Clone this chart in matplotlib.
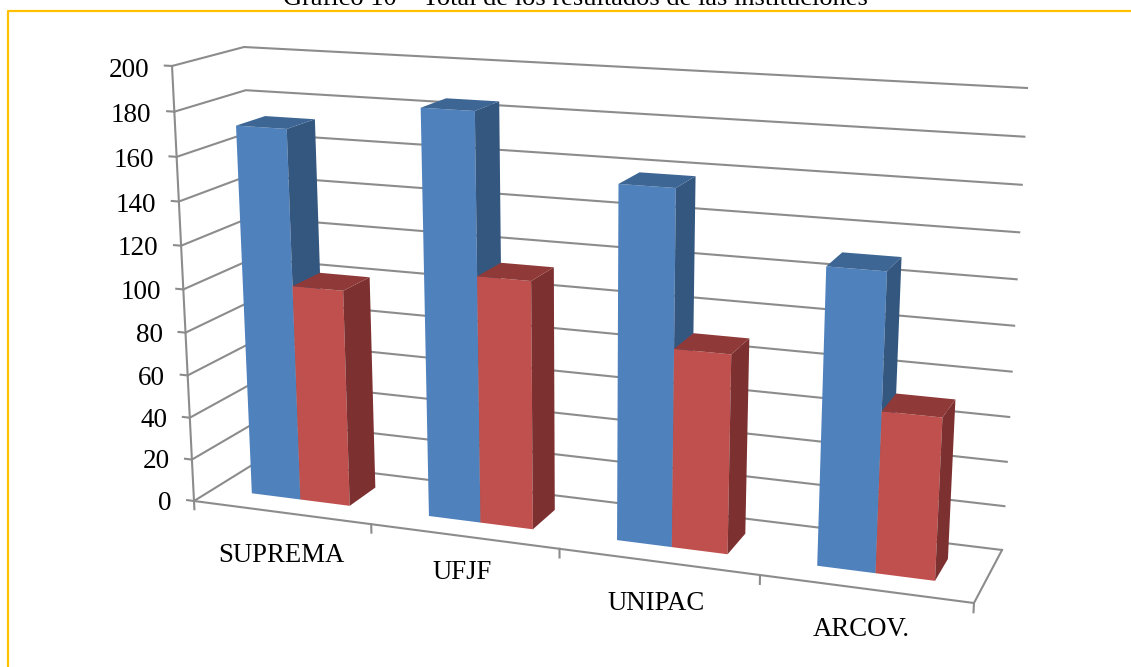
import matplotlib
matplotlib.use("Agg")
import matplotlib.pyplot as plt
from matplotlib.lines import Line2D
import numpy as np

plt.rcParams['font.family'] = ['Liberation Serif', 'DejaVu Serif']

title = "Gráfico 10 – Total de los resultados de las instituciones"
categories = ["SUPREMA", "UFJF", "UNIPAC", "ARCOV."]
series_blue = [172, 185, 158, 130]
series_red = [101, 113, 89, 71]
y_ticks = [0, 20, 40, 60, 80, 100, 120, 140, 160, 180, 200]

W, H = 1131, 667


# camera fitted on the corners of the chart box: (category, depth, value) -> view coords
def fit_camera():
    corners = [((0, 0, 0), (194, 501)), ((0, 0, 200), (172, 66)), ((0, 1, 200), (244, 47)),
               ((4, 1, 200), (1027, 88)), ((4, 1, 0), (1002, 550)), ((4, 0, 0), (974, 603))]
    rows = []
    for (x, y, z), (px, py) in corners:
        u, v = 2*px/W - 1, 1 - 2*py/H
        rows.append([x, y, z, 1, 0, 0, 0, 0, -u*x, -u*y, -u*z, -u])
        rows.append([0, 0, 0, 0, x, y, z, 1, -v*x, -v*y, -v*z, -v])
    p = np.linalg.svd(np.array(rows, dtype=float))[2][-1].reshape(3, 4)
    p = p / p[2, 3]
    # depth row stays negative, mplot3d drops line points with positive depth
    return np.array([p[0], p[1], [0, -1e-3, 0, -1e-3], p[2]])


M = fit_camera()

fig = plt.figure(figsize=(W/100, H/100), dpi=100)
ax = fig.add_axes([0, 0, 1, 1], projection='3d', computed_zorder=False)
ax.apply_aspect = lambda position=None: None
ax.get_proj = lambda: M
ax.set_axis_off()
ax.viewLim.intervalx = (-1, 1)
ax.viewLim.intervaly = (-1, 1)

n = len(categories)
grey = '#8c8c8c'
lw = 1.5

# walls
for t in y_ticks:
    ax.plot([0, 0, n], [0, 1, 1], [t, t, t], color=grey, lw=lw, zorder=1)
    ax.plot([-0.04, 0], [0, 0], [t, t], color=grey, lw=lw, zorder=1)
    ax.text(-0.13, 0, t - 2.4, str(t), ha='right', va='center', fontsize=19.5, zorder=5)
ax.plot([0, 0], [0, 0], [0, 200], color=grey, lw=lw, zorder=1)
ax.plot([0, n, n], [0, 0, 1], [0, 0, 0], color=grey, lw=lw, zorder=1)
for i in range(n + 1):
    ax.plot([i, i], [0, 0], [0, -4], color=grey, lw=lw, zorder=1)

# bars
bar_w = 0.28
bar_start = 0.22
depth_front = 0.29
depth = 0.42
none = (0, 0, 0, 0)
z = 2
for i in range(n):
    for j, (vals, cols) in enumerate([(series_blue, ('#3d6694', '#4f81bd', '#345780')),
                                      (series_red, ('#8f3a38', '#c0504d', '#7d3030'))]):
        ax.bar3d(i + bar_start + j*bar_w, depth_front, 0, bar_w, depth, vals[i], shade=False,
                 color=[none, cols[0], cols[1], none, none, cols[2]], zorder=z)
        z += 1

label_drop = [21, 17, 19, 18]
for i, c in enumerate(categories):
    ax.text(i + 0.49, 0, -label_drop[i], c, ha='center', va='center', fontsize=19.3, zorder=5)

# frame and caption
fig.add_artist(Line2D([8/W, 8/W, 1], [0, 1 - 11/H, 1 - 11/H], color='#ffc000', lw=1.6))
fig.text(575/W, 1 - 5/H, title, ha='center', va='baseline', fontsize=19)

fig.savefig("out.png", dpi=100)
